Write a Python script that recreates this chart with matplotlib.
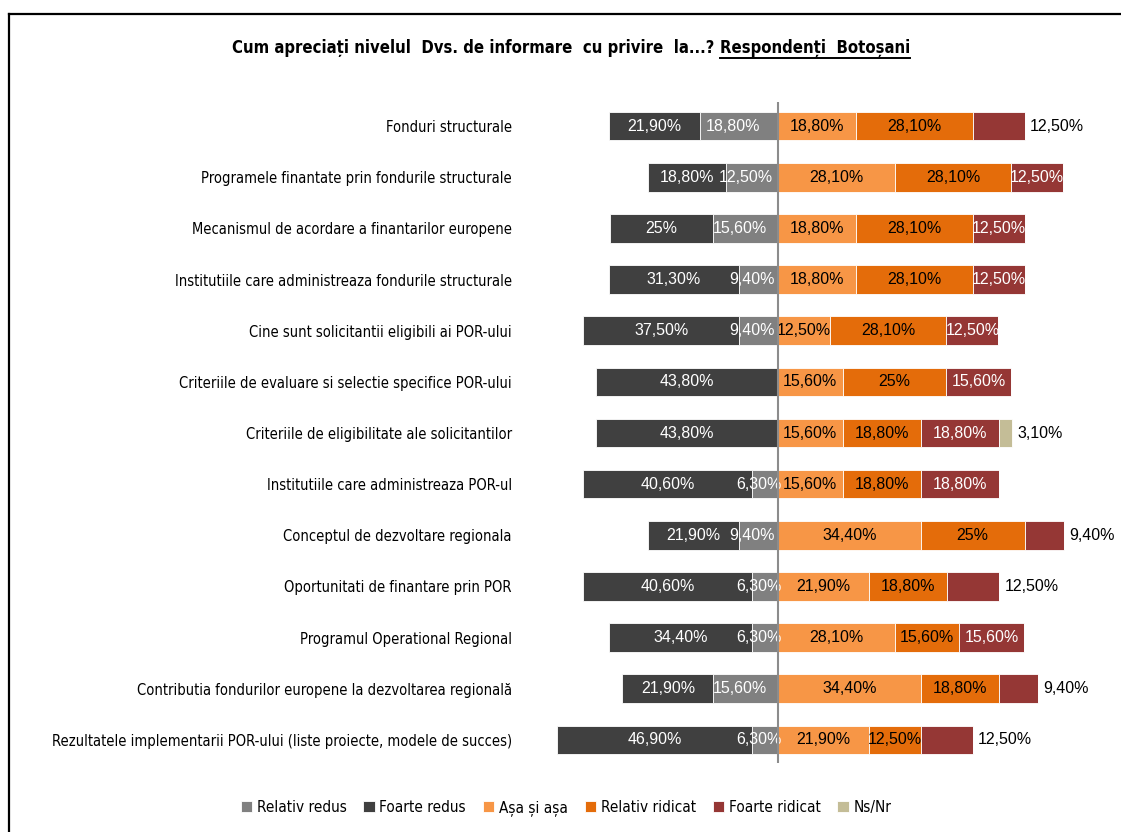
import numpy as np
import matplotlib.pyplot as plt
from matplotlib.lines import Line2D

# date
categorii = [
    "Fonduri structurale",
    "Programele finantate prin fondurile structurale",
    "Mecanismul de acordare a finantarilor europene",
    "Institutiile care administreaza fondurile structurale",
    "Cine sunt solicitantii eligibili ai POR-ului",
    "Criteriile de evaluare si selectie specifice POR-ului",
    "Criteriile de eligibilitate ale solicitantilor",
    "Institutiile care administreaza POR-ul",
    "Conceptul de dezvoltare regionala",
    "Oportunitati de finantare prin POR",
    "Programul Operational Regional",
    "Contributia fondurilor europene la dezvoltarea regională",
    "Rezultatele implementarii POR-ului (liste proiecte, modele de succes)",
]
foarte_redus    = [21.9, 18.8, 25.0, 31.3, 37.5, 43.8, 43.8, 40.6, 21.9, 40.6, 34.4, 21.9, 46.9]
relativ_redus   = [18.8, 12.5, 15.6, 9.4, 9.4, 0, 0, 6.3, 9.4, 6.3, 6.3, 15.6, 6.3]
asa_si_asa      = [18.8, 28.1, 18.8, 18.8, 12.5, 15.6, 15.6, 15.6, 34.4, 21.9, 28.1, 34.4, 21.9]
relativ_ridicat = [28.1, 28.1, 28.1, 28.1, 28.1, 25.0, 18.8, 18.8, 25.0, 18.8, 15.6, 18.8, 12.5]
foarte_ridicat  = [12.5, 12.5, 12.5, 12.5, 12.5, 15.6, 18.8, 18.8, 9.4, 12.5, 15.6, 9.4, 12.5]
ns_nr           = [0, 0, 0, 0, 0, 0, 3.1, 0, 0, 0, 0, 0, 0]
# etichete "Foarte ridicat" puse in afara barei
fr_afara = [True, False, False, False, False, False, False, False, True, True, False, True, True]

c_fr = "#404040"
c_rr = "#808080"
c_aa = "#F79646"
c_ri = "#E46C0A"
c_fri = "#953735"
c_ns = "#C4BD97"

plt.rcParams['font.family'] = ['DejaVu Sans']
plt.rcParams['font.stretch'] = 'condensed'

W, H = 1121, 832
fig = plt.figure(figsize=(W / 100, H / 100), dpi=100)
ax = fig.add_axes([530 / W, 1 - 763 / H, 560 / W, 661 / H])

y = np.arange(len(categorii))
fr = np.array(foarte_redus)
rr = np.array(relativ_redus)
aa = np.array(asa_si_asa)
ri = np.array(relativ_ridicat)
fri = np.array(foarte_ridicat)
ns = np.array(ns_nr)

h = 0.56
kw = dict(height=h, edgecolor="white", linewidth=0.6)
b_rr = ax.barh(y, -rr, left=0, color=c_rr, label="Relativ redus", **kw)
b_fr = ax.barh(y, -fr, left=-rr, color=c_fr, label="Foarte redus", **kw)
b_aa = ax.barh(y, aa, left=0, color=c_aa, label="Așa și așa", **kw)
b_ri = ax.barh(y, ri, left=aa, color=c_ri, label="Relativ ridicat", **kw)
b_fri = ax.barh(y, fri, left=aa + ri, color=c_fri, label="Foarte ridicat", **kw)
b_ns = ax.barh(y, ns, left=aa + ri + fri, color=c_ns, label="Ns/Nr", **kw)


def fmt(v):
    if v == int(v):
        return "%d%%" % v
    return ("%.2f" % v).replace(".", ",") + "%"


vfont = dict(family="Liberation Sans", fontsize=11.5, stretch="normal")
for i in range(len(categorii)):
    if fr[i] > 0:
        ax.text(-rr[i] - fr[i] / 2, i, fmt(fr[i]), ha="center", va="center", color="white", **vfont)
    if rr[i] > 0:
        ax.text(-rr[i] / 2 - 1.5, i, fmt(rr[i]), ha="center", va="center", color="white", **vfont)
    ax.text(aa[i] / 2, i, fmt(aa[i]), ha="center", va="center", color="black", **vfont)
    ax.text(aa[i] + ri[i] / 2, i, fmt(ri[i]), ha="center", va="center", color="black", **vfont)
    end = aa[i] + ri[i] + fri[i]
    if fr_afara[i]:
        ax.annotate(fmt(fri[i]), (end, i), xytext=(4, 0), textcoords="offset points",
                    ha="left", va="center", color="black", **vfont)
    else:
        ax.text(end - fri[i] / 2, i, fmt(fri[i]), ha="center", va="center", color="white", **vfont)
    if ns[i] > 0:
        ax.annotate(fmt(ns[i]), (end + ns[i], i), xytext=(4, 0), textcoords="offset points",
                    ha="left", va="center", color="black", **vfont)

ax.axvline(0, color="#8c8c8c", lw=1.5, zorder=5)
ax.set_xlim((530 - 778) / 4.15, (1090 - 778) / 4.15)
ax.set_ylim(12.45, -0.47)
ax.set_yticks(y)
ax.set_yticklabels(categorii, fontsize=11.5)
ax.tick_params(axis="y", length=0, pad=13)
ax.set_xticks([])
for s in ax.spines.values():
    s.set_visible(False)

fig.canvas.draw()
r = fig.canvas.get_renderer()

# ajustez marimea etichetelor ca cea mai lunga sa aiba ~457 px
latime = max(t.get_window_extent(r).width for t in ax.get_yticklabels())
for t in ax.get_yticklabels():
    t.set_fontsize(11.5 * 457 / latime)

# titlu
tfont = dict(fontsize=13.5, fontweight="bold", va="center", ha="left")
t1 = fig.text(0, 1 - 48 / H, "Cum apreciați nivelul  Dvs. de informare  cu privire  la...? ", **tfont)
t2 = fig.text(0, 1 - 48 / H, "Respondenți  Botoșani", **tfont)
w1 = t1.get_window_extent(r).width
w2 = t2.get_window_extent(r).width
k = 678 / (w1 + w2)
t1.set_fontsize(13.5 * k)
t2.set_fontsize(13.5 * k)
t1.set_x(232 / W)
t2.set_x((232 + w1 * k) / W)
bb2 = t2.get_window_extent(r)
fig.add_artist(Line2D([bb2.x0 / W, bb2.x1 / W], [(bb2.y0 - 1) / H] * 2, color="black", lw=1.4))

# legenda
handles = [b_rr, b_fr, b_aa, b_ri, b_fri, b_ns]
fig.legend(handles=handles, labels=[b.get_label() for b in handles], loc="center",
           bbox_to_anchor=(566 / W, 1 - 808 / H), ncol=6, frameon=False, fontsize=11,
           handlelength=0.75, handleheight=0.75, handletextpad=0.3, columnspacing=1.1)

# chenar
fig.add_artist(Line2D([9 / W, 1], [1 - 14 / H] * 2, color="black", lw=1.6))
fig.add_artist(Line2D([9 / W] * 2, [0, 1 - 14 / H], color="black", lw=1.6))

fig.savefig("out.png", dpi=100)
